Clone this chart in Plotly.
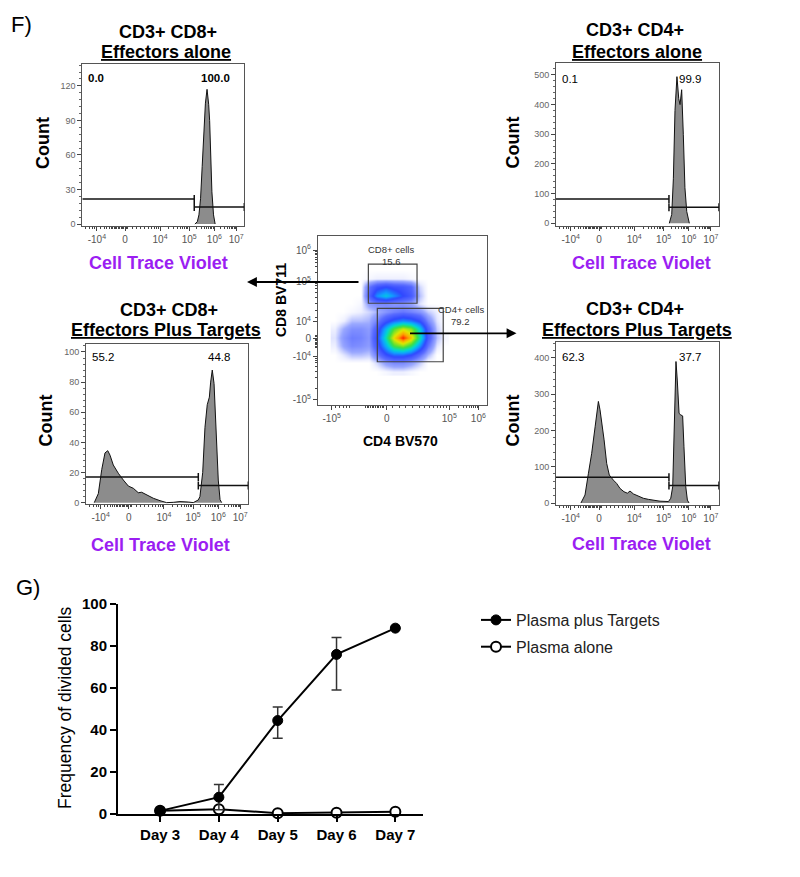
import math
import plotly.graph_objects as go

W, H = 800, 877
FONT = "Arial, 'Liberation Sans', sans-serif"
PURPLE = "#9b1ef2"

# ---------------- data ----------------
# histogram x axis (biexponential display units 0..100)
hist_tick_vals = [9.0, 26.4, 48.0, 66.0, 81.5, 95.0]
hist_tick_text = ["-10<sup>4</sup>", "0", "10<sup>4</sup>", "10<sup>5</sup>", "10<sup>6</sup>", "10<sup>7</sup>"]

cd8_alone_x = [69.5, 71, 72, 73, 74, 75, 76, 77, 78, 78.6, 79.3, 80, 81, 82]
cd8_alone_count = [0, 2, 8, 22, 50, 82, 105, 117, 104, 90, 60, 28, 8, 0]

cd4_alone_x = [69.5, 71.0, 72.0, 73.0, 74.2, 75.3, 76.1, 77.1, 78.1, 79.1, 80.2, 81.8]
cd4_alone_count = [0, 30, 150, 380, 494, 420, 400, 450, 300, 120, 40, 0]

cd8_targets_x = [5.1, 7.6, 9.7, 11.7, 13.4, 14.8, 16.8, 19.9, 23, 26.1, 29.2, 32.2, 34.3, 37.4,
                 41.5, 45.6, 49.7, 53.8, 57.9, 63, 66.1, 69.2, 70.2, 71.9, 73.3, 74.7, 76, 76.8,
                 77.8, 78.9, 80.1, 81.5, 82.6, 83.6]
cd8_targets_count = [0, 6, 22, 33, 34.5, 31.5, 25, 19.5, 15, 11, 9.5, 6.6, 6.9, 5.1,
                     2.9, 1.3, 0, 0.2, 0.7, 0.4, 0, 1.8, 4, 20, 50, 65, 70, 80,
                     88, 79, 48, 15, 2, 0]

cd4_targets_x = [15.3, 17.8, 19.9, 21.9, 24, 25, 26, 27, 28, 29.5, 31.1, 32.7, 35.2, 37.2, 39.3,
                 41.7, 43.8, 45.4, 47.5, 50.5, 53.6, 56.7, 59.8, 63.8, 69, 70.4, 71.6, 72.6,
                 73.6, 74.4, 75.5, 76.5, 77.7, 78.5, 79.6, 80.6, 81.6]
cd4_targets_count = [0, 22, 82, 137, 210, 247, 280, 257, 229, 174, 109, 77, 63, 54, 40,
                     31, 27, 33, 25, 19, 13, 10, 8, 5, 4, 13, 45, 201,
                     390, 339, 247, 243, 240, 155, 45, 8, 0]

hist_titles = ["CD3+ CD8+", "CD3+ CD4+", "CD3+ CD8+", "CD3+ CD4+"]
hist_subtitles = ["Effectors alone", "Effectors alone", "Effectors Plus Targets", "Effectors Plus Targets"]
gate_split = [69.1, 69.3, 69.2, 69.3]
gate_left_level = [21.7, 82, 17, 71]
gate_right_level = [14.8, 54, 11.3, 48]
pct_left = ["0.0", "0.1", "55.2", "62.3"]
pct_right = ["100.0", "99.9", "44.8", "37.7"]
hist_y_ticks = [[0, 30, 60, 90, 120], [0, 100, 200, 300, 400, 500],
                [0, 20, 40, 60, 80, 100], [0, 100, 200, 300, 400]]

# CD4 vs CD8 dot plot (display units 0..100), density grid
scatter_x_tick_vals = [8.1, 40.7, 77.7, 94.9]
scatter_x_tick_text = ["-10<sup>5</sup>", "0", "10<sup>5</sup>", "10<sup>6</sup>"]
scatter_y_tick_vals = [3.0, 28.6, 39.5, 49.3, 73.0, 91.7]
scatter_y_tick_text = ["-10<sup>5</sup>", "-10<sup>4</sup>", "0", "10<sup>4</sup>", "10<sup>5</sup>", "10<sup>6</sup>"]

density_x = [10, 15, 20, 25, 30, 35, 40, 45, 50, 55, 60, 65, 70, 75]
density_y = [20, 25, 30, 35, 40, 45, 50, 55, 60, 65, 70, 75, 80]
density_z = [
    [0, 0, 0, 0, 0, 0, 0.1, 0.2, 0.2, 0.1, 0, 0, 0, 0],
    [0, 0, 0, 0, 0, 0.4, 1.0, 1.3, 1.3, 1.0, 0.5, 0, 0, 0],
    [0, 0.3, 0.6, 0.6, 0.5, 1.5, 2.8, 3.5, 3.5, 3.0, 1.8, 0.7, 0, 0],
    [0.2, 0.9, 1.3, 1.2, 1.0, 2.4, 4.5, 6.5, 7.2, 6.2, 4.0, 1.7, 0.3, 0],
    [0.3, 1.1, 1.5, 1.4, 1.1, 2.8, 5.5, 8.2, 10.0, 8.6, 5.6, 2.4, 0.6, 0.1],
    [0.2, 0.8, 1.2, 1.2, 1.0, 2.3, 4.6, 6.6, 7.8, 7.2, 5.0, 2.2, 0.5, 0],
    [0, 0.2, 0.6, 0.6, 0.7, 1.4, 2.6, 3.4, 3.9, 3.6, 2.8, 1.3, 0.3, 0],
    [0, 0, 0.1, 0.2, 0.4, 0.7, 1.1, 1.4, 1.6, 1.4, 1.1, 0.5, 0.2, 0],
    [0, 0, 0, 0.1, 1.0, 1.3, 1.3, 1.1, 1.1, 0.9, 0.3, 0, 0, 0],
    [0, 0, 0, 0, 2.0, 4.0, 4.9, 4.0, 3.0, 2.4, 0.6, 0, 0, 0],
    [0, 0, 0, 0, 1.6, 2.6, 3.0, 2.6, 2.4, 2.0, 0.4, 0, 0, 0],
    [0, 0, 0, 0, 0.1, 0.2, 0.2, 0.2, 0.2, 0.1, 0, 0, 0, 0],
    [0, 0, 0, 0, 0, 0, 0, 0, 0, 0, 0, 0, 0, 0],
]
cd8_gate = [29.8, 58.6, 60.2, 83.3]   # x0, x1, y0, y1
cd4_gate = [35.1, 74.1, 25.6, 57.2]
cd8_gate_label = ["CD8+ cells", "15.6"]
cd4_gate_label = ["CD4+ cells", "79.2"]

# G) time course
days = ["Day 3", "Day 4", "Day 5", "Day 6", "Day 7"]
targets_mean = [1.5, 8.0, 44.5, 76.0, 88.5]
targets_err_plus = [0, 6.0, 6.4, 8.0, 0]
targets_err_minus = [0, 6.0, 8.4, 17.0, 0]
alone_mean = [1.5, 2.3, 0.4, 0.6, 1.1]


# ---------------- helpers ----------------
def dx(l, r):
    return [l / W, r / W]


def dy(top, bottom):
    return [1 - bottom / H, 1 - top / H]


def px(x):
    return x / W


def py(y):
    return 1 - y / H


def log_minor(a, b):
    return [a + (b - a) * math.log10(k) for k in range(2, 10)]


hist_minor = ([2.0, 4.5, 6.5, 7.8] + [11.5, 13.5, 15.2, 16.6, 17.8, 18.8, 19.7]
              + [20.5 + 0.85 * i for i in range(10)]
              + [31, 33.5, 36, 38.5, 40.8, 42.8, 44.4, 45.8, 47.0]
              + log_minor(48, 66) + log_minor(66, 81.5) + log_minor(81.5, 95))
scatter_x_minor = ([10.5, 13, 15, 17, 18.5] + [28 + 1.0 * i for i in range(12)]
                   + [44, 48, 52, 56, 60, 63, 66, 68.5, 70.5, 72.5, 74.5, 76]
                   + log_minor(77.7, 94.9))
scatter_y_minor = ([10, 16, 20, 23, 25, 26.5, 27.6] + [34 + 0.8 * i for i in range(10)]
                   + [52, 56, 60, 63.5, 66.5, 68.8, 70.5, 71.8] + log_minor(73.0, 91.7))

fig = go.Figure()
layout = dict(width=W, height=H, margin=dict(l=0, r=0, t=0, b=0, pad=0, autoexpand=False),
              autosize=False, paper_bgcolor="white", plot_bgcolor="white",
              font=dict(family=FONT, color="black"), showlegend=True)
annotations = []
shapes = []


def ann(text, x, y, size, color="black", angle=0, xref="paper", yref="paper", xanchor="center"):
    annotations.append(dict(text=text, x=x, y=y, xref=xref, yref=yref, showarrow=False,
                            xanchor=xanchor, yanchor="middle", textangle=angle,
                            font=dict(family=FONT, size=size, color=color)))


# ---------------- histograms ----------------
panels = [
    dict(x=cd8_alone_x, c=cd8_alone_count, box=(82.3, 244.3, 64, 226), yr=[-1.7, 139],
         t1=(168, 32), t2=(166, 52), cnt=(43, 143), ctv=(158, 263), py=78),
    dict(x=cd4_alone_x, c=cd4_alone_count, box=(556, 719, 63.3, 225.7), yr=[-8, 539],
         t1=(635, 30), t2=(637, 52), cnt=(512.5, 143), ctv=(641.7, 263), py=79),
    dict(x=cd8_targets_x, c=cd8_targets_count, box=(86, 248.3, 344, 504.3), yr=[-1.1, 105.3],
         t1=(168.5, 309.5), t2=(166, 330), cnt=(45.5, 421), ctv=(160.8, 545), py=357.3),
    dict(x=cd4_targets_x, c=cd4_targets_count, box=(556, 719, 342.3, 504.7), yr=[-4.7, 443],
         t1=(635, 308.5), t2=(636.5, 329.5), cnt=(512.5, 421), ctv=(641.7, 544), py=357.3),
]

for i, p in enumerate(panels):
    n = i + 1
    sx = "" if n == 1 else str(n)
    l, r, t, b = p["box"]
    fig.add_trace(go.Scatter(x=p["x"], y=p["c"], mode="lines", fill="tozeroy",
                             fillcolor="#8c8c8c", line=dict(color="#111", width=1),
                             xaxis="x" + sx, yaxis="y" + sx, showlegend=False, hoverinfo="skip"))
    yt = hist_y_ticks[i]
    layout["xaxis" + sx] = dict(domain=dx(l, r), range=[0, 100], anchor="y" + sx, automargin=False,
                                showline=True, mirror=True, linecolor="#555", linewidth=1,
                                ticks="outside", ticklen=4, tickcolor="#444", tickwidth=1,
                                tickmode="array", tickvals=hist_tick_vals, ticktext=hist_tick_text,
                                tickfont=dict(family=FONT, size=10, color="#555"),
                                showgrid=False, zeroline=False, fixedrange=True,
                                minor=dict(ticks="outside", ticklen=2, tickcolor="#444",
                                           tickmode="array", tickvals=hist_minor))
    layout["yaxis" + sx] = dict(domain=dy(t, b), range=p["yr"], anchor="x" + sx, automargin=False,
                                showline=True, mirror=True, linecolor="#555", linewidth=1,
                                ticks="outside", ticklen=4, tickcolor="#444",
                                tickmode="array", tickvals=yt, ticktext=[str(v) for v in yt],
                                tickfont=dict(family=FONT, size=9, color="#666"),
                                showgrid=False, zeroline=False, fixedrange=True,
                                minor=dict(ticks="outside", ticklen=2, tickcolor="#666",
                                           tick0=0, dtick=(yt[1] - yt[0]) / 5))
    xs, ys = "x" + sx, "y" + sx
    s = gate_split[i]
    for (x0, x1, lev) in [(0, s, gate_left_level[i]), (s, 100, gate_right_level[i])]:
        shapes.append(dict(type="line", xref=xs, yref=ys, x0=x0, x1=x1, y0=lev, y1=lev,
                           line=dict(color="#111", width=1.5)))
    for (xc, lev) in [(s, gate_left_level[i]), (s, gate_right_level[i]), (100, gate_right_level[i])]:
        shapes.append(dict(type="line", xref=xs, yref=ys, x0=xc, x1=xc, ysizemode="pixel",
                           yanchor=lev, y0=-4, y1=4, line=dict(color="#111", width=1.5)))
    bold = (i == 0)
    tl = pct_left[i] if not bold else "<b>" + pct_left[i] + "</b>"
    tr = pct_right[i] if not bold else "<b>" + pct_right[i] + "</b>"
    ann(tl, px(l + 4), py(p["py"]), 11.5, xanchor="left")
    ann(tr, px(l + 0.82 * (r - l)), py(p["py"]), 11.5)
    ann("<b>" + hist_titles[i] + "</b>", px(p["t1"][0]), py(p["t1"][1]), 18)
    ann("<b><u>" + hist_subtitles[i] + "</u></b>", px(p["t2"][0]), py(p["t2"][1]), 18)
    ann("<b>Count</b>", px(p["cnt"][0]), py(p["cnt"][1]), 18, angle=-90)
    ann("<b>Cell Trace Violet</b>", px(p["ctv"][0]), py(p["ctv"][1]), 18, color=PURPLE)

# ---------------- dot plot ----------------
colorscale = [[0, "#ffffff"], [0.02, "#eef0ff"], [0.08, "#9aa8ff"], [0.18, "#5a6cff"],
              [0.3, "#3048ff"], [0.42, "#10a0ff"], [0.52, "#00d8d0"], [0.65, "#40e040"],
              [0.8, "#e0e800"], [0.9, "#ffa000"], [1.0, "#ff2000"]]
fig.add_trace(go.Heatmap(x=density_x, y=density_y, z=density_z, zmin=0, zmax=10,
                         colorscale=colorscale, showscale=False, zsmooth="best",
                         xaxis="x5", yaxis="y5", hoverinfo="skip"))
layout["xaxis5"] = dict(domain=dx(318, 487), range=[0, 100], anchor="y5", automargin=False,
                        showline=True, mirror=True, linecolor="#555", linewidth=1,
                        ticks="outside", ticklen=4, tickcolor="#444",
                        tickmode="array", tickvals=scatter_x_tick_vals, ticktext=scatter_x_tick_text,
                        tickfont=dict(family=FONT, size=10, color="#555"),
                        showgrid=False, zeroline=False, fixedrange=True,
                        minor=dict(ticks="outside", ticklen=2, tickcolor="#444",
                                   tickmode="array", tickvals=scatter_x_minor))
layout["yaxis5"] = dict(domain=dy(236, 405), range=[0, 100], anchor="x5", automargin=False,
                        showline=True, mirror=True, linecolor="#555", linewidth=1,
                        ticks="outside", ticklen=4, tickcolor="#444",
                        tickmode="array", tickvals=scatter_y_tick_vals, ticktext=scatter_y_tick_text,
                        tickfont=dict(family=FONT, size=10, color="#555"),
                        showgrid=False, zeroline=False, fixedrange=True,
                        minor=dict(ticks="outside", ticklen=2, tickcolor="#444",
                                   tickmode="array", tickvals=scatter_y_minor))
for g in (cd8_gate, cd4_gate):
    shapes.append(dict(type="rect", xref="x5", yref="y5", x0=g[0], x1=g[1], y0=g[2], y1=g[3],
                       line=dict(color="#444", width=1.2), layer="above"))
ann(cd8_gate_label[0], 43.2, 92.3, 9.5, color="#333", xref="x5", yref="y5")
ann(cd8_gate_label[1], 43.2, 84.8, 9.5, color="#333", xref="x5", yref="y5")
ann(cd4_gate_label[0], 84.5, 56.8, 9.5, color="#333", xref="x5", yref="y5")
ann(cd4_gate_label[1], 84.5, 49.3, 9.5, color="#333", xref="x5", yref="y5")
ann("<b>CD4 BV570</b>", px(400), py(440.7), 14)
ann("<b>CD8 BV711</b>", px(281), py(300), 14, angle=-90)

# arrows
annotations.append(dict(x=px(247), y=py(282), xref="paper", yref="paper", ax=113, ay=0,
                        showarrow=True, arrowhead=2, arrowsize=1.1, arrowwidth=1.8,
                        arrowcolor="black", text=""))
annotations.append(dict(x=px(516.5), y=py(333.3), xref="paper", yref="paper", ax=-108, ay=0,
                        showarrow=True, arrowhead=2, arrowsize=1.1, arrowwidth=1.8,
                        arrowcolor="black", text=""))

ann("F)", px(21), py(24), 22)
ann("G)", px(27.5), py(587), 22)

# ---------------- G) line chart ----------------
fig.add_trace(go.Scatter(x=list(range(len(days))), y=alone_mean, mode="lines+markers",
                         name="Plasma alone", legendrank=2, legendgroup="b",
                         line=dict(color="black", width=2),
                         marker=dict(symbol="circle", size=10, color="white",
                                     line=dict(color="black", width=2)),
                         xaxis="x6", yaxis="y6", cliponaxis=False, hoverinfo="skip"))
fig.add_trace(go.Scatter(x=list(range(len(days))), y=targets_mean, mode="lines+markers",
                         name="Plasma plus Targets", legendrank=1, legendgroup="a",
                         line=dict(color="black", width=2),
                         marker=dict(symbol="circle", size=10, color="black",
                                     line=dict(color="black", width=1)),
                         error_y=dict(type="data", symmetric=False, array=targets_err_plus,
                                      arrayminus=targets_err_minus, color="#333",
                                      thickness=1.5, width=5),
                         xaxis="x6", yaxis="y6", cliponaxis=False, hoverinfo="skip"))
layout["xaxis6"] = dict(domain=dx(118, 423), range=[-0.715, 4.47], anchor="y6", automargin=False,
                        showline=True, linecolor="black", linewidth=2,
                        ticks="outside", ticklen=6, tickwidth=2, tickcolor="black",
                        tickmode="array", tickvals=list(range(len(days))), ticktext=days,
                        tickfont=dict(family=FONT, size=15, color="black", weight="bold"),
                        showgrid=False, zeroline=False, fixedrange=True)
layout["yaxis6"] = dict(domain=dy(604, 814), range=[0, 100], anchor="x6", automargin=False,
                        showline=True, linecolor="black", linewidth=2,
                        ticks="outside", ticklen=6, tickwidth=2, tickcolor="black",
                        tickmode="linear", tick0=0, dtick=20,
                        tickfont=dict(family=FONT, size=15, color="black", weight="bold"),
                        showgrid=False, zeroline=False, fixedrange=True)
ann("Frequency of divided cells", px(65), py(708), 17.5, angle=-90)

layout["legend"] = dict(x=px(476), y=py(603), xanchor="left", yanchor="top",
                        font=dict(family=FONT, size=16, color="#222"),
                        bgcolor="rgba(0,0,0,0)", itemwidth=30, tracegroupgap=3)
layout["annotations"] = annotations
layout["shapes"] = shapes
fig.update_layout(**layout)
fig.write_html("out.html", config={"displayModeBar": False},
               post_script="document.body.style.margin='0px';")
